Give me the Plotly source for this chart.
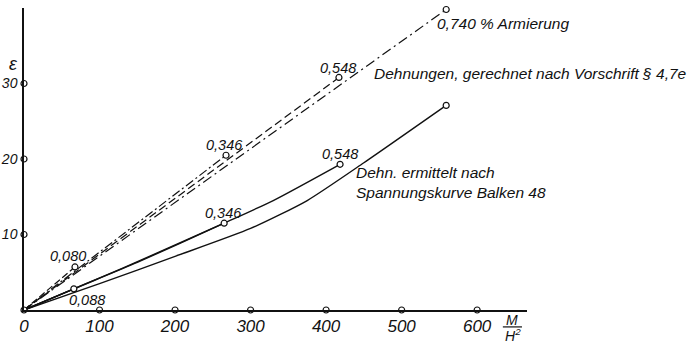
import plotly.graph_objects as go

# ---- data ----
x_ticks = [0, 100, 200, 300, 400, 500, 600]
x_tick_labels = ["0", "100", "200", "300", "400", "500", "600"]
y_ticks = [10, 20, 30]
y_tick_labels = ["10", "20", "30"]

# calculated strains (Vorschrift § 4,7e), straight lines from origin to marker
calc_labels = ["0,080", "0,346", "0,548", "0,740"]
calc_x = [67.5, 267.5, 417, 559]
calc_y = [5.7, 20.5, 30.8, 39.8]

# strains from stress curve Balken 48
meas_088_x = [0, 66]
meas_088_y = [0, 2.8]
meas_346_x = [0, 130, 265]
meas_346_y = [0, 5.5, 11.5]
meas_548_x = [0, 66, 150, 265, 330, 418.5]
meas_548_y = [0, 2.8, 6.3, 11.5, 14.5, 19.3]
meas_740_x = [0, 100, 200, 300, 375, 450, 559]
meas_740_y = [0, 3.5, 7.1, 10.8, 14.5, 19.5, 27.1]
meas_labels = ["0,088", "0,346", "0,548"]

FONT = "Liberation Sans, Arial, DejaVu Sans"
BLACK = "#111111"

fig = go.Figure()

calc_dashes = ["7px,3px", "9px,3px,2px,3px", "8px,4px", "10px,4px,2px,4px"]
for xv, yv, d in zip(calc_x, calc_y, calc_dashes):
    fig.add_trace(go.Scatter(x=[0, xv], y=[0, yv], mode="lines",
                             line=dict(color=BLACK, width=1.2, dash=d),
                             cliponaxis=False, showlegend=False, hoverinfo="skip"))

for xs, ys in [(meas_088_x, meas_088_y), (meas_346_x, meas_346_y),
               (meas_548_x, meas_548_y), (meas_740_x, meas_740_y)]:
    fig.add_trace(go.Scatter(x=xs, y=ys, mode="lines",
                             line=dict(color=BLACK, width=1.4, shape="spline", smoothing=0.6),
                             cliponaxis=False, showlegend=False, hoverinfo="skip"))

circle = dict(symbol="circle", size=6, color="white", line=dict(color=BLACK, width=1.2))

# end markers
end_x = calc_x + [meas_088_x[-1], meas_346_x[-1], meas_548_x[-1], meas_740_x[-1]]
end_y = calc_y + [meas_088_y[-1], meas_346_y[-1], meas_548_y[-1], meas_740_y[-1]]
fig.add_trace(go.Scatter(x=end_x, y=end_y, mode="markers", marker=circle,
                         cliponaxis=False, showlegend=False, hoverinfo="skip"))

# axis tick circles
fig.add_trace(go.Scatter(x=x_ticks + [0] * len(y_ticks),
                         y=[0] * len(x_ticks) + y_ticks,
                         mode="markers", marker=circle,
                         cliponaxis=False, showlegend=False, hoverinfo="skip"))

ann = []
def txt(x, y, s, size=14, xanchor="center", xref="x", yref="y", align="left"):
    ann.append(dict(x=x, y=y, xref=xref, yref=yref, text=s, showarrow=False,
                    xanchor=xanchor, yanchor="middle", align=align,
                    font=dict(family=FONT, size=size, color=BLACK, style="italic")))

# labels near calculated markers
calc_label_pos = [(58, 7.1), (266, 21.8), (416, 32.0)]
for (lx, ly), s in zip(calc_label_pos, calc_labels[:3]):
    txt(lx, ly, s, 14.5)
# labels near measured markers
meas_label_pos = [(83, 1.3), (264, 12.9), (418.5, 20.7)]
for (lx, ly), s in zip(meas_label_pos, meas_labels):
    txt(lx, ly, s, 14.5)

txt(544, 37.9, "0,740 % Armierung", 15.5, xanchor="left")
txt(461, 31.3, "Dehnungen, gerechnet nach Vorschrift § 4,7e", 15.5, xanchor="left")
txt(437, 16.9, "Dehn. ermittelt nach<br>Spannungskurve Balken 48", 15.5, xanchor="left")

# axis labels
txt(-0.02, 0.815, "ε", 18, xref="paper", yref="paper")
txt(0.970, -0.032, "M", 14, xref="paper", yref="paper")
txt(0.972, -0.083, "H<sup>2</sup>", 14, xref="paper", yref="paper")

fig.update_layout(
    width=689, height=344,
    margin=dict(l=24, r=162, t=8, b=34, autoexpand=False),
    paper_bgcolor="white", plot_bgcolor="white",
    annotations=ann,
    shapes=[dict(type="line", xref="paper", yref="paper", x0=0.952, x1=0.990,
                 y0=-0.056, y1=-0.056, line=dict(color=BLACK, width=1.2))],
    xaxis=dict(range=[0, 666], showgrid=False, zeroline=False, showline=True,
               automargin=False,
               linecolor=BLACK, linewidth=1.5, ticks="", tickvals=x_ticks,
               ticktext=x_tick_labels,
               tickfont=dict(family=FONT, size=17, color=BLACK, style="italic")),
    yaxis=dict(range=[0, 40], showgrid=False, zeroline=False, showline=True,
               automargin=False, ticklabelstandoff=2,
               linecolor=BLACK, linewidth=1.5, ticks="", tickvals=y_ticks,
               ticktext=y_tick_labels,
               tickfont=dict(family=FONT, size=14, color=BLACK, style="italic")),
)

fig.write_html("out.html", config={"displayModeBar": False},
               post_script="document.body.style.margin='0px';")
